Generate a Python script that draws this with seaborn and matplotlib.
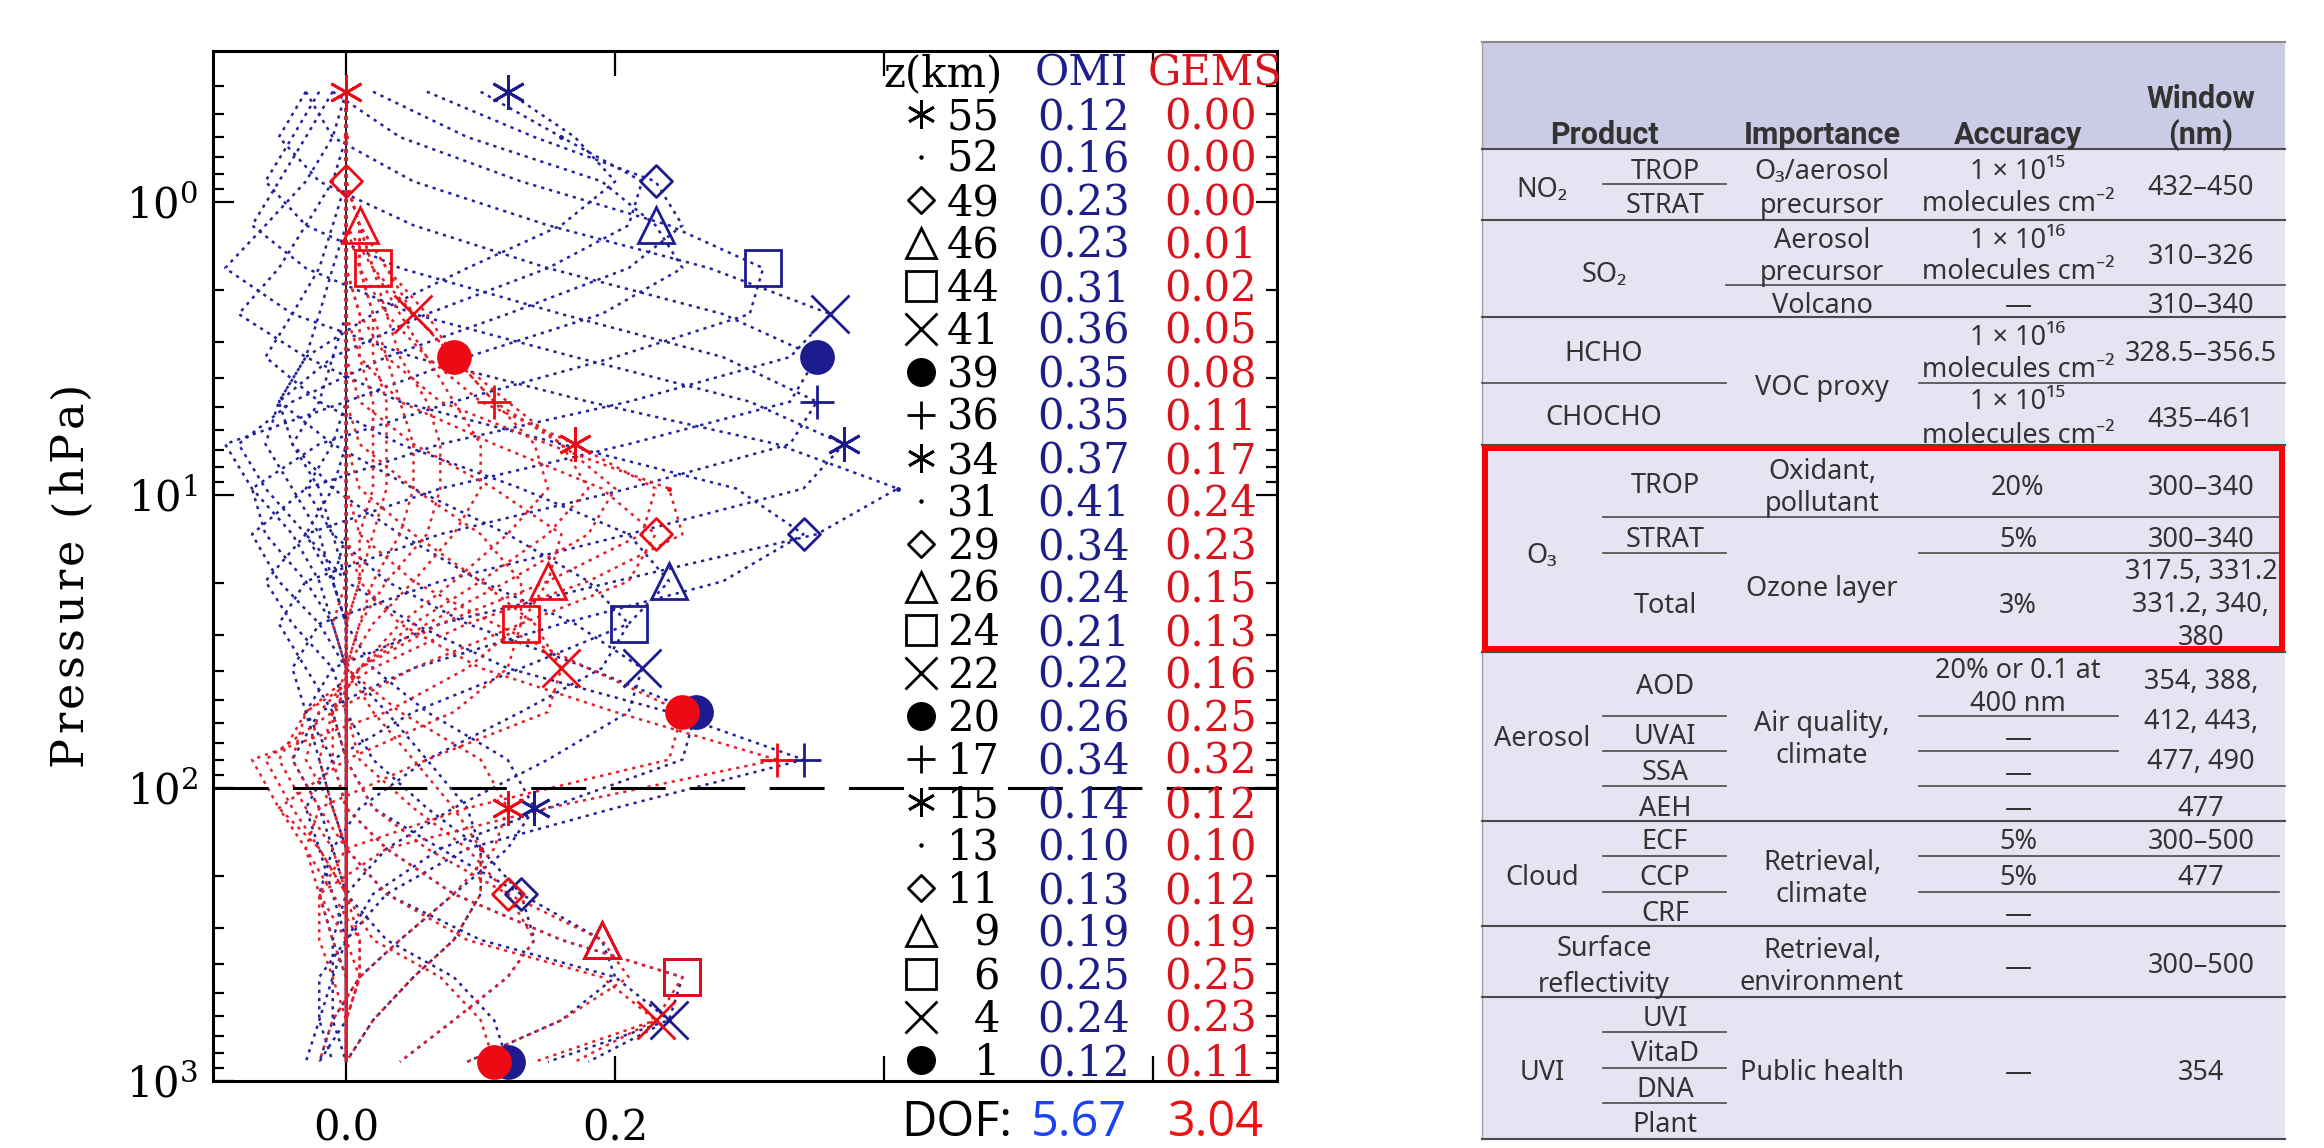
import matplotlib
matplotlib.use("Agg")
import matplotlib.pyplot as plt
import seaborn as sns
import pandas as pd
from matplotlib.path import Path
from matplotlib.patches import Rectangle
from matplotlib.font_manager import FontProperties

# ------------------------------------------------------------------ data
z_km = [55, 52, 49, 46, 44, 41, 39, 36, 34, 31, 29, 26, 24, 22, 20, 17, 15, 13, 11, 9, 6, 4, 1]
p_hpa = [0.42, 0.60, 0.85, 1.2, 1.68, 2.41, 3.38, 4.8, 6.7, 9.5, 13.6, 19.7, 27.5, 39,
         55, 80, 117, 161, 230, 330, 442, 620, 860]
omi_dfs = [0.12, 0.16, 0.23, 0.23, 0.31, 0.36, 0.35, 0.35, 0.37, 0.41, 0.34, 0.24,
           0.21, 0.22, 0.26, 0.34, 0.14, 0.10, 0.13, 0.19, 0.25, 0.24, 0.12]
gems_dfs = [0.00, 0.00, 0.00, 0.01, 0.02, 0.05, 0.08, 0.11, 0.17, 0.24, 0.23, 0.15,
            0.13, 0.16, 0.25, 0.32, 0.12, 0.10, 0.12, 0.19, 0.25, 0.23, 0.11]
dof_omi = "5.67"
dof_gems = "3.04"
level_symbols = ["ast", "dot", "dia", "tri", "sq", "x", "circ", "plus",
                 "ast", "dot", "dia", "tri", "sq", "x", "circ", "plus",
                 "ast", "dot", "dia", "tri", "sq", "x", "circ"]

omi_ak = [
    [0.12, 0.17, 0.20, 0.16, 0.09, 0.02, -0.03, -0.05, -0.04, -0.02, -0.01, 0, 0, 0, 0, 0, 0, 0, 0, 0, 0, 0, 0],
    [0.10, 0.16, 0.22, 0.21, 0.15, 0.06, -0.01, -0.05, -0.06, -0.04, -0.02, -0.01, 0, 0, 0, 0, 0, 0, 0, 0, 0, 0, 0],
    [0.06, 0.14, 0.23, 0.25, 0.21, 0.12, 0.03, -0.04, -0.08, -0.06, -0.03, -0.01, 0, 0, 0, 0, 0, 0, 0, 0, 0, 0, 0],
    [0.02, 0.09, 0.19, 0.23, 0.25, 0.19, 0.09, 0.00, -0.09, -0.07, -0.04, -0.02, -0.01, 0, 0, 0, 0, 0, 0, 0, 0, 0, 0],
    [-0.01, 0.04, 0.13, 0.24, 0.31, 0.30, 0.20, 0.08, -0.02, -0.07, -0.06, -0.03, -0.01, 0, 0, 0, 0, 0, 0, 0, 0, 0, 0],
    [-0.03, -0.01, 0.05, 0.15, 0.27, 0.36, 0.33, 0.21, 0.07, -0.03, -0.07, -0.05, -0.02, 0, 0, 0, 0, 0, 0, 0, 0, 0, 0],
    [-0.03, -0.05, -0.02, 0.05, 0.15, 0.28, 0.35, 0.33, 0.21, 0.07, -0.03, -0.06, -0.04, -0.01, 0, 0, 0, 0, 0, 0, 0, 0, 0],
    [-0.02, -0.04, -0.06, -0.03, 0.04, 0.16, 0.28, 0.35, 0.33, 0.21, 0.07, -0.03, -0.05, -0.03, -0.01, 0, 0, 0, 0, 0, 0, 0, 0],
    [-0.01, -0.03, -0.05, -0.07, -0.03, 0.05, 0.17, 0.30, 0.37, 0.34, 0.21, 0.07, -0.02, -0.04, -0.03, -0.01, 0, 0, 0, 0, 0, 0, 0],
    [0.00, -0.01, -0.03, -0.06, -0.09, -0.04, 0.05, 0.18, 0.32, 0.41, 0.35, 0.20, 0.07, -0.01, -0.03, -0.02, -0.01, 0, 0, 0, 0, 0, 0],
    [0, 0, -0.01, -0.03, -0.05, -0.08, -0.03, 0.04, 0.16, 0.29, 0.34, 0.28, 0.16, 0.05, -0.02, -0.04, -0.02, -0.01, 0, 0, 0, 0, 0],
    [0, 0, 0, -0.01, -0.02, -0.04, -0.06, -0.02, 0.04, 0.13, 0.21, 0.24, 0.21, 0.13, 0.05, -0.01, -0.03, -0.02, -0.01, 0, 0, 0, 0],
    [0, 0, 0, 0, -0.01, -0.02, -0.03, -0.05, -0.01, 0.05, 0.12, 0.18, 0.21, 0.19, 0.13, 0.06, 0.01, -0.01, -0.02, -0.01, 0, 0, -0.02],
    [0, 0, 0, 0, 0, 0, -0.01, -0.02, -0.04, -0.01, 0.04, 0.10, 0.17, 0.22, 0.21, 0.15, 0.08, 0.03, 0.00, -0.01, -0.01, -0.02, -0.03],
    [0, 0, 0, 0, 0, 0, 0, 0, -0.01, -0.03, -0.01, 0.03, 0.09, 0.18, 0.26, 0.25, 0.15, 0.07, 0.02, 0.00, -0.01, -0.01, 0.00],
    [0, 0, 0, 0, 0, 0, 0, 0, 0, -0.01, -0.03, 0.00, 0.05, 0.12, 0.24, 0.34, 0.20, 0.09, 0.03, 0.00, -0.02, -0.02, -0.01],
    [0, 0, 0, 0, 0, 0, 0, 0, 0, 0, 0, -0.01, 0.00, 0.02, 0.06, 0.12, 0.14, 0.12, 0.08, 0.04, 0.01, -0.01, -0.02],
    [0, 0, 0, 0, 0, 0, 0, 0, 0, 0, 0, 0, 0, 0.00, 0.03, 0.06, 0.09, 0.10, 0.10, 0.08, 0.05, 0.02, 0.00],
    [0, 0, 0, 0, 0, 0, 0, 0, 0, 0, 0, 0, 0, 0, 0.00, 0.02, 0.06, 0.10, 0.13, 0.14, 0.12, 0.08, 0.04],
    [0, 0, 0, 0, 0, 0, 0, 0, 0, 0, 0, 0, 0, 0, 0, 0, 0.02, 0.07, 0.13, 0.19, 0.20, 0.16, 0.09],
    [0, 0, 0, 0, 0, 0, 0, 0, 0, 0, 0, 0, 0, 0, 0, 0, 0, 0.03, 0.08, 0.16, 0.25, 0.24, 0.15],
    [0, 0, 0, 0, 0, 0, 0, 0, 0, 0, 0, 0, 0, 0, 0, 0, 0, 0, 0.03, 0.10, 0.20, 0.24, 0.18],
    [0, 0, 0, 0, 0, 0, 0, 0, 0, 0, 0, 0, 0, 0, 0, 0, 0, 0, 0, 0.03, 0.08, 0.11, 0.12],
]

gems_ak = [
    [0.00, 0.00, 0.00, 0.00, 0.00, 0.01, 0.01, 0.02, 0.02, 0.02, 0.01, 0.01, 0, 0, 0, 0, 0, 0, 0, 0, 0, 0, 0],
    [0.00, 0.00, 0.00, 0.01, 0.01, 0.02, 0.02, 0.03, 0.03, 0.03, 0.02, 0.01, 0, 0, 0, 0, 0, 0, 0, 0, 0, 0, 0],
    [0.00, 0.00, 0.00, 0.01, 0.01, 0.02, 0.03, 0.04, 0.05, 0.05, 0.04, 0.02, 0.01, 0, 0, 0, 0, 0, 0, 0, 0, 0, 0],
    [0.00, 0.00, 0.00, 0.01, 0.02, 0.03, 0.04, 0.06, 0.07, 0.07, 0.06, 0.03, 0.01, 0, 0, 0, 0, 0, 0, 0, 0, 0, 0],
    [0.00, 0.00, 0.00, 0.01, 0.02, 0.04, 0.06, 0.08, 0.10, 0.10, 0.08, 0.05, 0.02, 0.00, -0.01, 0, 0, 0, 0, 0, 0, 0, 0],
    [0.00, 0.00, 0.00, 0.01, 0.03, 0.05, 0.08, 0.11, 0.14, 0.15, 0.12, 0.08, 0.04, 0.01, -0.01, -0.01, 0, 0, 0, 0, 0, 0, 0],
    [0.00, 0.00, 0.00, 0.01, 0.03, 0.06, 0.08, 0.12, 0.16, 0.18, 0.15, 0.10, 0.05, 0.01, -0.01, -0.02, -0.01, 0, 0, 0, 0, 0, 0],
    [0.00, 0.00, 0.00, 0.00, 0.02, 0.05, 0.08, 0.11, 0.16, 0.20, 0.18, 0.12, 0.06, 0.01, -0.02, -0.03, -0.01, 0, 0, 0, 0, 0, 0],
    [0.00, 0.00, 0.00, 0.00, 0.01, 0.03, 0.06, 0.10, 0.17, 0.23, 0.22, 0.15, 0.07, 0.01, -0.03, -0.04, -0.02, 0, 0, 0, 0, 0, 0],
    [0.00, 0.00, 0.00, 0.00, 0.00, 0.01, 0.03, 0.07, 0.15, 0.24, 0.25, 0.18, 0.09, 0.02, -0.03, -0.05, -0.03, -0.01, 0, 0, 0, 0, 0],
    [0, 0, 0, 0, 0, 0, 0.01, 0.04, 0.11, 0.19, 0.23, 0.21, 0.13, 0.05, -0.01, -0.06, -0.04, -0.02, 0, 0, 0, 0, 0],
    [0, 0, 0, 0, 0, 0, 0, 0.01, 0.05, 0.11, 0.16, 0.15, 0.13, 0.09, 0.03, -0.07, -0.05, -0.02, 0.00, 0.01, 0.01, 0.00, 0.00],
    [0, 0, 0, 0, 0, 0, 0, 0, 0.01, 0.05, 0.10, 0.13, 0.13, 0.12, 0.08, 0.00, -0.05, -0.03, -0.01, 0.01, 0.01, 0.00, 0.00],
    [0, 0, 0, 0, 0, 0, 0, 0, 0, 0.01, 0.05, 0.10, 0.14, 0.16, 0.15, 0.06, -0.02, -0.03, -0.02, 0.00, 0.01, 0.00, 0.00],
    [0, 0, 0, 0, 0, 0, 0, 0, 0, 0, 0.01, 0.05, 0.11, 0.18, 0.25, 0.24, 0.09, 0.00, -0.02, -0.01, 0.00, 0.00, 0.00],
    [0, 0, 0, 0, 0, 0, 0, 0, 0, 0, 0, 0.01, 0.04, 0.10, 0.20, 0.32, 0.15, 0.03, -0.02, -0.02, -0.01, 0.00, 0.00],
    [0, 0, 0, 0, 0, 0, 0, 0, 0, 0, 0, 0, -0.01, 0.00, 0.04, 0.10, 0.12, 0.11, 0.08, 0.04, 0.01, -0.01, -0.02],
    [0, 0, 0, 0, 0, 0, 0, 0, 0, 0, 0, 0, 0, 0.00, 0.02, 0.05, 0.08, 0.10, 0.10, 0.08, 0.05, 0.02, 0.00],
    [0, 0, 0, 0, 0, 0, 0, 0, 0, 0, 0, 0, 0, 0, 0.00, 0.01, 0.05, 0.09, 0.12, 0.14, 0.12, 0.08, 0.04],
    [0, 0, 0, 0, 0, 0, 0, 0, 0, 0, 0, 0, 0, 0, 0, 0, 0.02, 0.06, 0.12, 0.19, 0.21, 0.16, 0.09],
    [0, 0, 0, 0, 0, 0, 0, 0, 0, 0, 0, 0, 0, 0, 0, 0, 0, 0.03, 0.08, 0.16, 0.25, 0.23, 0.14],
    [0, 0, 0, 0, 0, 0, 0, 0, 0, 0, 0, 0, 0, 0, 0, 0, 0, 0, 0.03, 0.09, 0.19, 0.23, 0.17],
    [0, 0, 0, 0, 0, 0, 0, 0, 0, 0, 0, 0, 0, 0, 0, 0, 0, 0, 0, 0.02, 0.07, 0.10, 0.11],
]

# table content
table_header = ["Product", "Importance", "Accuracy", "Window\n(nm)"]
table_products = ["NO₂", "SO₂", "HCHO", "CHOCHO", "O₃", "Aerosol", "Cloud",
                  "Surface\nreflectivity", "UVI"]
table_subproducts = ["TROP", "STRAT", "TROP", "STRAT", "Total", "AOD", "UVAI", "SSA",
                     "AEH", "ECF", "CCP", "CRF", "UVI", "VitaD", "DNA", "Plant"]
table_importance = ["O₃/aerosol\nprecursor", "Aerosol\nprecursor", "Volcano", "VOC proxy",
                    "Oxidant,\npollutant", "Ozone layer", "Air quality,\nclimate",
                    "Retrieval,\nclimate", "Retrieval,\nenvironment", "Public health"]
table_accuracy = ["1 × 10¹⁵\nmolecules cm⁻²", "1 × 10¹⁶\nmolecules cm⁻²", "—",
                  "1 × 10¹⁶\nmolecules cm⁻²", "1 × 10¹⁵\nmolecules cm⁻²", "20%", "5%", "3%",
                  "20% or 0.1 at\n400 nm", "—", "—", "—", "5%", "5%", "—", "—", "—"]
table_window = ["432–450", "310–326", "310–340", "328.5–356.5", "435–461", "300–340",
                "300–340", "317.5, 331.2\n331.2, 340,\n380", "354, 388,\n412, 443,\n477, 490",
                "477", "300–500", "477", "300–500", "354"]

# ------------------------------------------------------------------ style
plt.rcParams['font.family'] = ['DejaVu Serif']
plt.rcParams['mathtext.fontset'] = 'dejavuserif'

W, H = 2324, 1148
BLUE_LINE, RED_LINE = "#24249a", "#e3202a"
BLUE_MK, RED_MK = "#1c1c90", "#ee0a14"
BLUE_TXT, RED_TXT = "#1e1e8a", "#d8141c"
SANS = ['Noto Sans', 'DejaVu Sans']
SANS_BOLD = ['Roboto', 'DejaVu Sans']
TXT = "#333333"

fig = plt.figure(figsize=(W / 100, H / 100), dpi=100)
fig.patch.set_facecolor("white")

AX_L, AX_R, AX_T, AX_B = 213, 1277, 51, 1081
ax = fig.add_axes([AX_L / W, 1 - AX_B / H, (AX_R - AX_L) / W, (AX_B - AX_T) / H])
ax.set_yscale("log")

records = []
for inst, mat in (("OMI", omi_ak), ("GEMS", gems_ak)):
    for k, row in enumerate(mat):
        for p, v in zip(p_hpa, row):
            records.append((inst, f"{inst}{k:02d}", p, v))
df = pd.DataFrame(records, columns=["inst", "kernel", "pressure", "value"])

for inst, col in (("OMI", BLUE_LINE), ("GEMS", RED_LINE)):
    sns.lineplot(data=df[df.inst == inst], x="value", y="pressure", units="kernel",
                 estimator=None, sort=False, color=col, lw=1.8,
                 linestyle=(0, (1.3, 2.0)), ax=ax, legend=False, zorder=2)

DIAMOND = Path([(0, 1), (1, 0), (0, -1), (-1, 0), (0, 1)],
               [Path.MOVETO, Path.LINETO, Path.LINETO, Path.LINETO, Path.CLOSEPOLY])
SYM = {"ast": ((6, 2, 0), 25, False), "dot": (".", 3, True), "dia": (DIAMOND, 23, False),
       "tri": ("^", 26, False), "sq": ("s", 26, False), "x": ("x", 28, False),
       "circ": ("o", 23, True), "plus": ("+", 24, False)}


def draw_marker(axis, x, y, sym, color, scale=1.0, z=5, **kw):
    m, ms, filled = SYM[sym]
    axis.plot([x], [y], ls="none", marker=m, ms=ms * scale, mew=2.0,
              mec=color, mfc=color if filled else "none", zorder=z, **kw)


for i, sym in enumerate(level_symbols):
    draw_marker(ax, omi_dfs[i], p_hpa[i], sym, BLUE_MK, z=5)
for i, sym in enumerate(level_symbols):
    draw_marker(ax, gems_dfs[i], p_hpa[i], sym, RED_MK, z=6)

ax.axhline(100, color="black", lw=2.2, dashes=(18, 8), zorder=4)
ax.axvline(0, color="black", lw=1.2, zorder=1)

ax.set_xlim(-0.099, 0.692)
ax.set_ylim(1000, 0.305)
ax.set_xticks([0.0, 0.2, 0.4, 0.6])
ax.set_xticklabels(["0.0", "0.2", "", ""])
ax.set_yticks([1, 10, 100, 1000])
ax.set_yticklabels([r"$10^{0}$", r"$10^{1}$", r"$10^{2}$", r"$10^{3}$"])
minor = [k * 10.0 ** e for e in range(-1, 3) for k in range(2, 10)]
ax.set_yticks([m for m in minor if 0.305 < m < 1000], minor=True)
ax.tick_params(axis="both", which="both", direction="in", top=True, right=True,
               width=1.6, labelsize=30, colors="black")
ax.tick_params(axis="both", which="major", length=15)
ax.tick_params(axis="y", which="minor", length=8)
ax.tick_params(axis="y", which="major", pad=11)
ax.tick_params(axis="x", which="major", pad=19, length=18)
for s in ax.spines.values():
    s.set_linewidth(2.2)
    s.set_color("black")
ax.set_xlabel("")
ax.set_ylabel("")

# ------------------------------------------------------------------ overlay (pixel space)
ov = fig.add_axes([0, 0, 1, 1])
ov.set_xlim(0, W)
ov.set_ylim(H, 0)
ov.axis("off")

# y-axis title, letter-spaced like the original
renderer = fig.canvas.get_renderer()
ylab_fp = FontProperties(family="DejaVu Serif", size=32)


def text_w(s):
    return renderer.get_text_width_height_descent(s, ylab_fp, ismath=False)[0]


ylab = "Pressure (hPa)"
ylab_len = 385
bar_w = text_w("|")
track = (ylab_len - text_w(ylab)) / (len(ylab) - 1)
for k, ch in enumerate(ylab):
    if ch == " ":
        continue
    pos = (text_w(ylab[:k] + "|") - bar_w) if k > 0 else 0.0
    ov.text(82, 766 - pos - k * track, ch, rotation=90, rotation_mode="anchor",
            ha="left", va="baseline", fontproperties=ylab_fp, color="black")

# legend table inside the plot
ROW0, DROW = 114, 43.0
ov.text(883, ROW0 - DROW + 15, "z(km)", ha="left", va="baseline", fontsize=30, color="black")
ov.text(1035, ROW0 - DROW + 15, "OMI", ha="left", va="baseline", fontsize=30, color=BLUE_TXT)
ov.text(1148, ROW0 - DROW + 15, "GEMS", ha="left", va="baseline", fontsize=30, color=RED_TXT)
for i in range(len(z_km)):
    yc = ROW0 + DROW * i
    draw_marker(ov, 921, yc, level_symbols[i], "black", scale=0.82, z=7)
    ov.text(1000, yc + 15, f"{z_km[i]}", ha="right", va="baseline", fontsize=30, color="black")
    ov.text(1130, yc + 15, f"{omi_dfs[i]:.2f}", ha="right", va="baseline", fontsize=30, color=BLUE_TXT)
    ov.text(1257, yc + 15, f"{gems_dfs[i]:.2f}", ha="right", va="baseline", fontsize=30, color=RED_TXT)

DOF_FONT = ['Open Sans', 'DejaVu Sans']
ov.text(901, 1136, "DOF:", ha="left", va="baseline", fontsize=35, family=DOF_FONT, color="black")
ov.text(1031, 1136, dof_omi, ha="left", va="baseline", fontsize=35, family=DOF_FONT, color="#1a44f0")
ov.text(1168, 1136, dof_gems, ha="left", va="baseline", fontsize=35, family=DOF_FONT, color="#ee1111")

# ------------------------------------------------------------------ right table
TL, TR, TT, TB = 1482, 2285, 42, 1139
C_SUB0, C_SUB1, C_IMP1, C_ACC1 = 1603, 1726, 1919, 2118
X_PROD, X_PNAME, X_SUB, X_IMP, X_ACC, X_WIN = 1604, 1542, 1665, 1822, 2018, 2201
HDR_B = 149

ov.add_patch(Rectangle((TL, TT), TR - TL, HDR_B - TT, facecolor="#cbcbe6", edgecolor="none", zorder=1))
ov.add_patch(Rectangle((TL, HDR_B), TR - TL, TB - HDR_B, facecolor="#e4e4f2", edgecolor="none", zorder=1))
ov.plot([TL, TR], [TT, TT], color="#8a8a8a", lw=1.5, zorder=2)
ov.plot([TL, TL], [TT, TB], color="#a0a0a0", lw=1.0, zorder=2)

FS = 19.5


def cell(text, x, y, spacing=33, bold=False):
    size = 22 if bold else FS
    cap = 0.714 * size * 100 / 72
    lines = text.split("\n")
    n = len(lines)
    for j, line in enumerate(lines):
        yc = y + (j - (n - 1) / 2) * spacing
        ov.text(x, yc + cap / 2, line, ha="center", va="baseline", fontsize=size,
                fontweight="bold" if bold else "normal", color=TXT,
                family=SANS_BOLD if bold else SANS, zorder=3)


cell(table_header[0], X_PROD, 133, bold=True)
cell(table_header[1], X_IMP, 133, bold=True)
cell(table_header[2], X_ACC, 133, bold=True)
cell(table_header[3], X_WIN, 115, spacing=36, bold=True)

prod_layout = [(X_PNAME, 187, 33), (X_PROD, 272, 33), (X_PROD, 351, 33), (X_PROD, 415, 33),
               (X_PNAME, 553, 33), (X_PNAME, 736, 33), (X_PNAME, 875, 33), (X_PROD, 964, 36),
               (X_PNAME, 1070, 33)]
for t, (x, y, sp) in zip(table_products, prod_layout):
    cell(t, x, y, sp)

sub_y = [169, 203, 483, 537, 603, 684, 734, 770, 806, 839, 875, 911, 1016, 1051, 1087, 1122]
for t, y in zip(table_subproducts, sub_y):
    cell(t, X_SUB, y)

imp_layout = [(186, 34), (254, 32), (303, 33), (385, 33), (485, 32), (586, 33),
              (737, 32), (876, 32), (964, 32), (1070, 33)]
for t, (y, sp) in zip(table_importance, imp_layout):
    cell(t, X_IMP, y, sp)

acc_layout = [(185, 32), (254, 31), (303, 33), (351, 32), (416, 34), (485, 33), (537, 33),
              (603, 33), (685, 33), (736, 33), (771, 33), (806, 33), (839, 33), (875, 33),
              (912, 33), (965, 33), (1070, 33)]
for t, (y, sp) in zip(table_accuracy, acc_layout):
    cell(t, X_ACC, y, sp)

win_layout = [(185, 33), (254, 33), (303, 33), (351, 33), (417, 33), (485, 33), (537, 33),
              (602, 33), (719, 40), (806, 33), (839, 33), (875, 33), (963, 33), (1070, 33)]
for t, (y, sp) in zip(table_window, win_layout):
    cell(t, X_WIN, y, sp)

LINE_C = "#4a4a4a"
for y in [HDR_B, 220, 317, 445, 652, 821, 926, 997, TB]:
    ov.plot([TL, TR], [y, y], color=LINE_C, lw=1.5, zorder=2)
segments = [(184, C_SUB0, C_SUB1), (285, C_SUB1, TR),
            (383, TL, C_SUB1), (383, C_IMP1, TR),
            (517, C_SUB0, TR - 6), (553, C_SUB0, C_SUB1), (553, C_IMP1, TR - 6),
            (716, C_SUB0, C_SUB1), (716, C_IMP1, C_ACC1),
            (751, C_SUB0, C_SUB1), (751, C_IMP1, C_ACC1),
            (786, C_SUB0, C_SUB1), (786, C_IMP1, TR),
            (856, C_SUB0, C_SUB1), (856, C_IMP1, TR - 6),
            (892, C_SUB0, C_SUB1), (892, C_IMP1, TR - 6),
            (1032, C_SUB0, C_SUB1), (1068, C_SUB0, C_SUB1), (1103, C_SUB0, C_SUB1)]
for y, x0, x1 in segments:
    ov.plot([x0, x1], [y, y], color=LINE_C, lw=1.2, zorder=2)

ov.add_patch(Rectangle((TL + 3, 448), TR - TL - 6, 201, facecolor="none",
                       edgecolor="#ff0000", lw=4.3, zorder=4))

fig.savefig("out.png", dpi=100, facecolor="white")
